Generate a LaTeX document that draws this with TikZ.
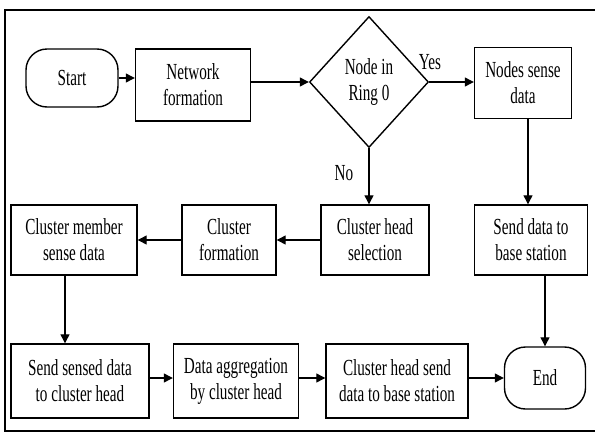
\documentclass[tikz,border=0pt]{standalone}
\usepackage{fontspec}
\setmainfont{Liberation Serif}[FakeStretch=0.66]
\usetikzlibrary{arrows.meta,shapes.geometric}

\begin{document}
\begin{tikzpicture}[
x=1pt, y=-1pt,
every node/.style={font=\fontsize{23}{26}\selectfont},
process/.style={draw, line width=1.4pt, fill=white, align=center, inner sep=0pt},
terminal/.style={draw, line width=1.4pt, fill=white, rounded corners=21pt, align=center, inner sep=0pt},
decision/.style={draw, diamond, line width=1.4pt, fill=white, align=center, inner sep=0pt},
arrow/.style={-{Triangle[length=9pt,width=9pt]}, line width=1.2pt}
]
\useasboundingbox (0,0) rectangle (595,437);
% outer frame
\draw[line width=1.3pt] (600,10) -- (5,10) -- (5,431) -- (600,431);

% top row
\node[terminal, minimum width=92, minimum height=58] (start) at (72,78) {Start};
\node[process, minimum width=115, minimum height=72] (net) at (193,85) {Network\\formation};
\node[decision, minimum width=119, minimum height=131] (ring) at (369,82) {Node in\\Ring 0};
\node[process, minimum width=97, minimum height=71] (sense) at (523,83) {Nodes sense\\data};

% middle row
\node[process, minimum width=126, minimum height=70] (cmem) at (74,240) {Cluster member\\sense data};
\node[process, minimum width=94, minimum height=70] (cform) at (229,240) {Cluster\\formation};
\node[process, minimum width=108, minimum height=70] (chsel) at (375,240) {Cluster head\\selection};
\node[process, minimum width=113, minimum height=70] (sendbs) at (531,240) {Send data to\\base station};

% bottom row
\node[process, minimum width=138, minimum height=74] (sendch) at (80,381) {Send sensed data\\to cluster head};
\node[process, minimum width=125, minimum height=74] (aggr) at (236,381) {Data aggregation\\by cluster head};
\node[process, minimum width=142, minimum height=74] (chsend) at (397,381) {Cluster head send\\data to base station};
\node[terminal, minimum width=81, minimum height=62] (endn) at (545,378) {End};

\draw[arrow] (start.east) -- (start.east -| net.west);
\draw[arrow] (net.east |- ring.west) -- (ring.west);
\draw[arrow] (ring.east) -- (ring.east -| sense.west);
\draw[arrow] (ring.south) -- (ring.south |- chsel.north);
\draw[arrow] ([xshift=5pt]sense.south) -- ([xshift=5pt]sense.south |- sendbs.north);
\draw[arrow] (chsel.west) -- (cform.east);
\draw[arrow] (cform.west) -- (cmem.east);
\draw[arrow] ([xshift=-9pt]cmem.south) -- ([xshift=-9pt]cmem.south |- sendch.north);
\draw[arrow] (sendch.east |- endn.west) -- (aggr.west |- endn.west);
\draw[arrow] (aggr.east |- endn.west) -- (chsend.west |- endn.west);
\draw[arrow] (chsend.east |- endn.west) -- (endn.west);
\draw[arrow] (sendbs.south -| endn.north) -- (endn.north);

\node (yes) at (430,62) {Yes};
\node (no) at (344,173) {No};
\end{tikzpicture}
\end{document}
